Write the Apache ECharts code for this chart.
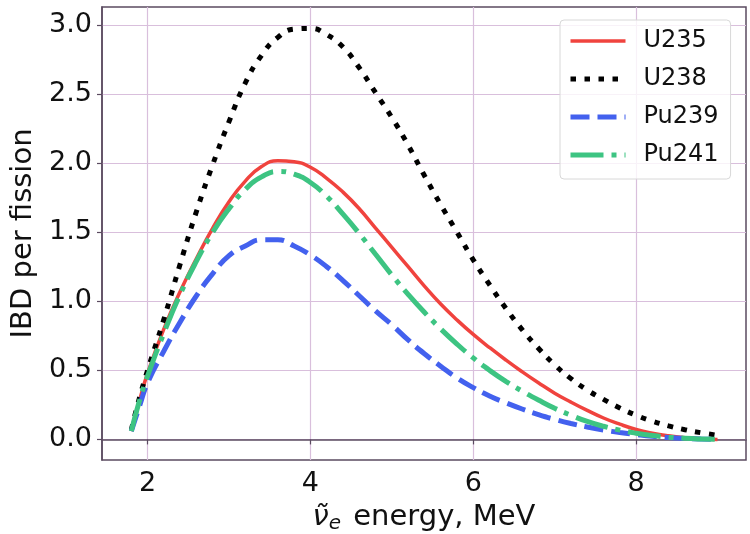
<!DOCTYPE html>
<html>
<head>
<meta charset="utf-8">
<script src="https://cdn.jsdelivr.net/npm/echarts@6/dist/echarts.min.js"></script>
<style>html,body{margin:0;padding:0;background:#fff}#c{width:750px;height:534px}</style>
</head>
<body>
<div id="c"></div>
<script>
var energy = [1.8,1.9,2.0,2.2,2.4,2.6,2.8,3.0,3.2,3.4,3.6,3.8,4.0,4.2,4.4,4.6,4.8,5.0,5.2,5.4,5.6,5.8,6.0,6.2,6.4,6.6,6.8,7.0,7.2,7.4,7.6,7.8,8.0,8.2,8.4,8.6,8.8,9.0];
var u235  = [0.06,0.28,0.48,0.80,1.07,1.31,1.53,1.72,1.87,1.975,2.017,2.01,1.97,1.89,1.79,1.67,1.53,1.39,1.25,1.11,0.98,0.865,0.76,0.665,0.575,0.49,0.41,0.335,0.27,0.21,0.155,0.11,0.072,0.045,0.026,0.013,0.005,0.0];
var u238  = [0.07,0.30,0.50,0.87,1.27,1.65,1.99,2.30,2.58,2.78,2.91,2.97,2.975,2.93,2.84,2.69,2.51,2.33,2.13,1.91,1.70,1.50,1.30,1.12,0.95,0.795,0.66,0.54,0.44,0.357,0.29,0.228,0.175,0.132,0.098,0.07,0.048,0.03];
var pu239 = [0.06,0.24,0.41,0.64,0.85,1.04,1.20,1.33,1.40,1.445,1.445,1.40,1.335,1.25,1.15,1.04,0.93,0.83,0.72,0.62,0.53,0.445,0.375,0.315,0.265,0.22,0.18,0.145,0.115,0.09,0.068,0.05,0.035,0.022,0.013,0.007,0.003,0.0];
var pu241 = [0.06,0.28,0.46,0.77,1.05,1.29,1.50,1.67,1.81,1.90,1.94,1.92,1.86,1.76,1.63,1.49,1.34,1.19,1.05,0.92,0.80,0.69,0.59,0.50,0.42,0.35,0.285,0.225,0.175,0.13,0.095,0.067,0.045,0.028,0.016,0.008,0.003,0.0];
var seriesNames = ['U235','U238','Pu239','Pu241'];
var xTicks = [2,4,6,8];
var yTicks = [0,0.5,1.0,1.5,2.0,2.5,3.0];

function pairs(ys){ return energy.map(function(x,i){ return [x, ys[i]]; }); }

var frameColor = '#5b4b60';
var gridColor = '#d9bfdc';
var font = 'DejaVu Sans';

var chart = echarts.init(document.getElementById('c'), null, {renderer:'canvas'});
function mk(name, data, color, width, dash){
  return {
    name: name, type: 'line', data: pairs(data), smooth: 0.5, smoothConstraint: false, symbol: 'none', showSymbol: false,
    lineStyle: {color: color, width: width, type: dash, cap: 'butt'},
    itemStyle: {color: color},
    animation: false
  };
}
chart.setOption({
  animation: false,
  backgroundColor: '#fff',
  grid: {left: 102, right: 4, top: 7, bottom: 74, show: true, borderColor: frameColor, borderWidth: 1.5, containLabel: false, outerBoundsMode: 'none'},
  xAxis: {
    type: 'value', min: 1.44, max: 9.35,
    axisLine: {show: true, lineStyle: {color: frameColor, width: 1.5}},
    axisTick: {show: true, length: 5, customValues: xTicks, lineStyle: {color: frameColor, width: 1.2}},
    axisLabel: {customValues: xTicks, color: '#111', fontFamily: font, fontSize: 27, margin: 10, formatter: function(v){return String(v);}},
    splitLine: {show: true, lineStyle: {color: gridColor, width: 1.2}},
    name: '{nu|ν̃}{sub|e} energy, MeV', nameLocation: 'middle', nameGap: 41,
    nameTextStyle: {color: '#111', fontFamily: font, fontSize: 29,
      rich: {nu: {fontFamily: font, fontSize: 29, fontStyle: 'italic', color: '#111'},
             sub: {fontFamily: font, fontSize: 20, fontStyle: 'italic', color: '#111', padding: [13,3,0,0]}}}
  },
  yAxis: {
    type: 'value', min: -0.149, max: 3.13,
    axisLine: {show: true, lineStyle: {color: frameColor, width: 1.5}},
    axisTick: {show: true, length: 5, customValues: yTicks, lineStyle: {color: frameColor, width: 1.2}},
    axisLabel: {customValues: yTicks, color: '#111', fontFamily: font, fontSize: 27, margin: 10, formatter: function(v){return v.toFixed(1);}},
    splitLine: {show: true, lineStyle: {color: gridColor, width: 1.2}},
    name: 'IBD per fission', nameLocation: 'middle', nameGap: 62,
    nameTextStyle: {color: '#111', fontFamily: font, fontSize: 29}
  },
  legend: {
    show: true, orient: 'vertical', left: 560, top: 20,
    data: seriesNames,
    itemWidth: 55, itemHeight: 14, itemGap: 14,
    padding: [9, 12, 12, 8],
    backgroundColor: 'rgba(255,255,255,0.8)', borderColor: '#d8d8d8', borderWidth: 1, borderRadius: 4,
    itemStyle: {color: 'rgba(0,0,0,0)', borderWidth: 0, opacity: 0},
    lineStyle: {width: 'inherit', type: 'inherit', cap: 'butt'},
    textStyle: {color: '#111', fontFamily: font, fontSize: 24, lineHeight: 22, padding: [0,0,0,13]}
  },
  series: [
    mk('U235', u235, '#f0433e', 3.5, 'solid'),
    mk('U238', u238, '#000000', 5, [5.5, 8.5]),
    mk('Pu239', pu239, '#4361ee', 5, [19, 8]),
    mk('Pu241', pu241, '#3dc482', 5, [33, 8, 5, 8])
  ]
});
</script>
</body>
</html>
